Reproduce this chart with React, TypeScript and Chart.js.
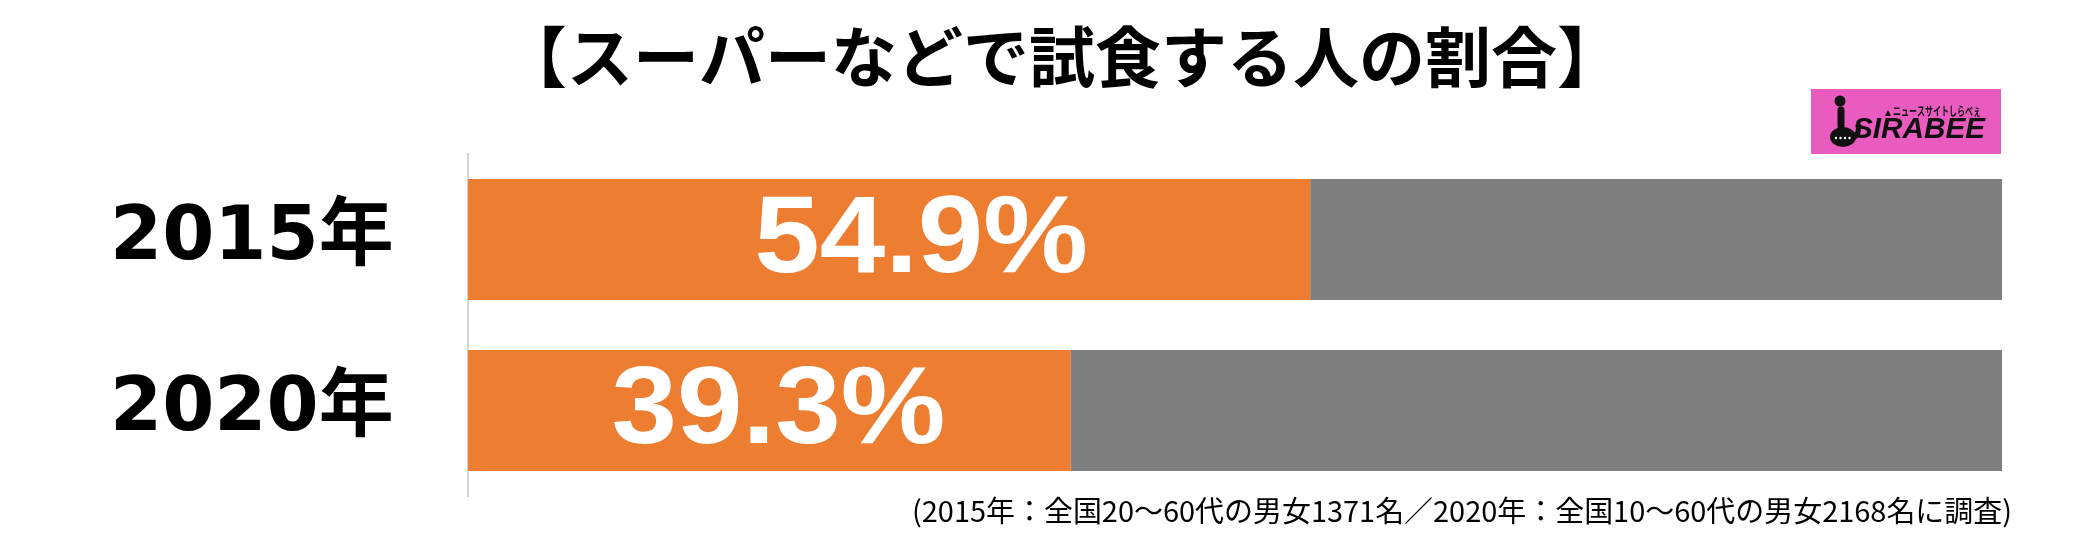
import React, { useEffect, useRef } from 'react';
import { Chart, registerables } from 'chart.js';

Chart.register(...registerables);

const categories = ['2015年', '2020年'];
const yesValues = [54.9, 39.3];
const restValues = [45.1, 60.7];
const titleText = '【スーパーなどで試食する人の割合】';
const noteText = '(2015年：全国20～60代の男女1371名／2020年：全国10～60代の男女2168名に調査)';
const logoSmallText = 'ニュースサイトしらべぇ';
const logoText = 'SIRABEE';

const ORANGE = '#ED7D31';
const GRAY = '#7F7F7F';
const PINK = '#E95BBE';
const LABEL_SHIFT = [32, 9];

const decorPlugin = {
  id: 'decor',
  afterDatasetsDraw(chart: any) {
    const ctx = chart.ctx;
    const meta = chart.getDatasetMeta(0);
    meta.data.forEach((bar: any, i: number) => {
      const cx = (bar.x + bar.base) / 2 + LABEL_SHIFT[i];
      ctx.save();
      ctx.translate(cx, bar.y + 2);
      ctx.scale(1.07, 1);
      ctx.fillStyle = '#ffffff';
      ctx.font = "bold 110px 'Liberation Sans', Arial, sans-serif";
      ctx.textAlign = 'center';
      ctx.textBaseline = 'middle';
      ctx.fillText(yesValues[i].toFixed(1) + '%', 0, 0);
      ctx.restore();
    });
  },
  afterDraw(chart: any) {
    const ctx = chart.ctx;
    ctx.save();
    // title
    ctx.fillStyle = '#000';
    ctx.font = "bold 66px 'Noto Sans CJK JP', sans-serif";
    ctx.textAlign = 'center';
    ctx.textBaseline = 'middle';
    ctx.fillText(titleText, 1062, 57);

    // footnote
    ctx.font = "29px 'Noto Sans CJK JP', sans-serif";
    ctx.textAlign = 'right';
    ctx.textBaseline = 'middle';
    ctx.fillText(noteText, 2012, 511, 1100);

    // logo
    ctx.fillStyle = PINK;
    ctx.fillRect(1811, 89, 190, 65);
    ctx.fillStyle = '#111';
    ctx.beginPath();
    ctx.arc(1840, 101, 5.5, 0, Math.PI * 2);
    ctx.fill();
    ctx.strokeStyle = '#111';
    ctx.lineWidth = 7;
    ctx.lineCap = 'round';
    ctx.beginPath();
    ctx.moveTo(1841, 110);
    ctx.lineTo(1841, 126);
    ctx.stroke();
    ctx.beginPath();
    ctx.ellipse(1843, 137, 13, 10, 0, 0, Math.PI * 2);
    ctx.fill();
    ctx.beginPath();
    ctx.moveTo(1853, 138);
    ctx.quadraticCurveTo(1860, 134, 1858, 126);
    ctx.lineWidth = 5;
    ctx.stroke();
    ctx.fillStyle = '#ffffff';
    for (let k = 0; k < 4; k++) {
      ctx.beginPath();
      ctx.arc(1836 + k * 4.5, 138, 1.2, 0, Math.PI * 2);
      ctx.fill();
    }
    ctx.fillStyle = '#111';
    ctx.font = "italic bold 30px 'Liberation Sans', Arial, sans-serif";
    ctx.textAlign = 'left';
    ctx.textBaseline = 'alphabetic';
    ctx.fillText(logoText, 1853, 138, 132);
    ctx.font = "bold 12px 'Noto Sans CJK JP', sans-serif";
    ctx.textBaseline = 'middle';
    ctx.fillText(logoSmallText, 1893, 111, 88);
    ctx.beginPath();
    ctx.moveTo(1885, 116);
    ctx.lineTo(1888, 110);
    ctx.lineTo(1891, 116);
    ctx.closePath();
    ctx.fill();
    ctx.restore();
  },
};

export default function App() {
  const canvasRef = useRef<HTMLCanvasElement | null>(null);

  useEffect(() => {
    document.body.style.margin = '0';
    const canvas = canvasRef.current;
    if (!canvas) return;
    const chart = new Chart(canvas, {
      type: 'bar',
      data: {
        labels: categories,
        datasets: [
          {
            data: yesValues,
            backgroundColor: ORANGE,
            borderWidth: 0,
            barPercentage: 0.709,
            categoryPercentage: 1,
          },
          {
            data: restValues,
            backgroundColor: GRAY,
            borderWidth: 0,
            barPercentage: 0.709,
            categoryPercentage: 1,
          },
        ],
      },
      options: {
        indexAxis: 'y',
        responsive: false,
        maintainAspectRatio: false,
        devicePixelRatio: 1,
        animation: false,
        layout: { padding: { left: 110, right: 86, top: 154, bottom: 43 } },
        scales: {
          x: { stacked: true, min: 0, max: 100, display: false },
          y: {
            stacked: true,
            grid: { display: false, drawTicks: false },
            border: { display: true, color: '#d6d6d6', width: 2 },
            ticks: {
              crossAlign: 'far',
              color: '#000',
              padding: 0,
              font: { family: "'DejaVu Sans', 'Noto Sans CJK JP', sans-serif", weight: 'bold', size: 75 },
            },
            afterFit: (s: any) => {
              s.width = 358;
            },
          },
        },
        plugins: {
          legend: { display: false },
          tooltip: { enabled: false },
          title: { display: false },
        },
      },
      plugins: [decorPlugin],
    });
    return () => chart.destroy();
  }, []);

  return (
    <div style={{ width: 2088, height: 541, background: '#fff' }}>
      <canvas ref={canvasRef} width={2088} height={541} style={{ display: 'block' }} />
    </div>
  );
}
